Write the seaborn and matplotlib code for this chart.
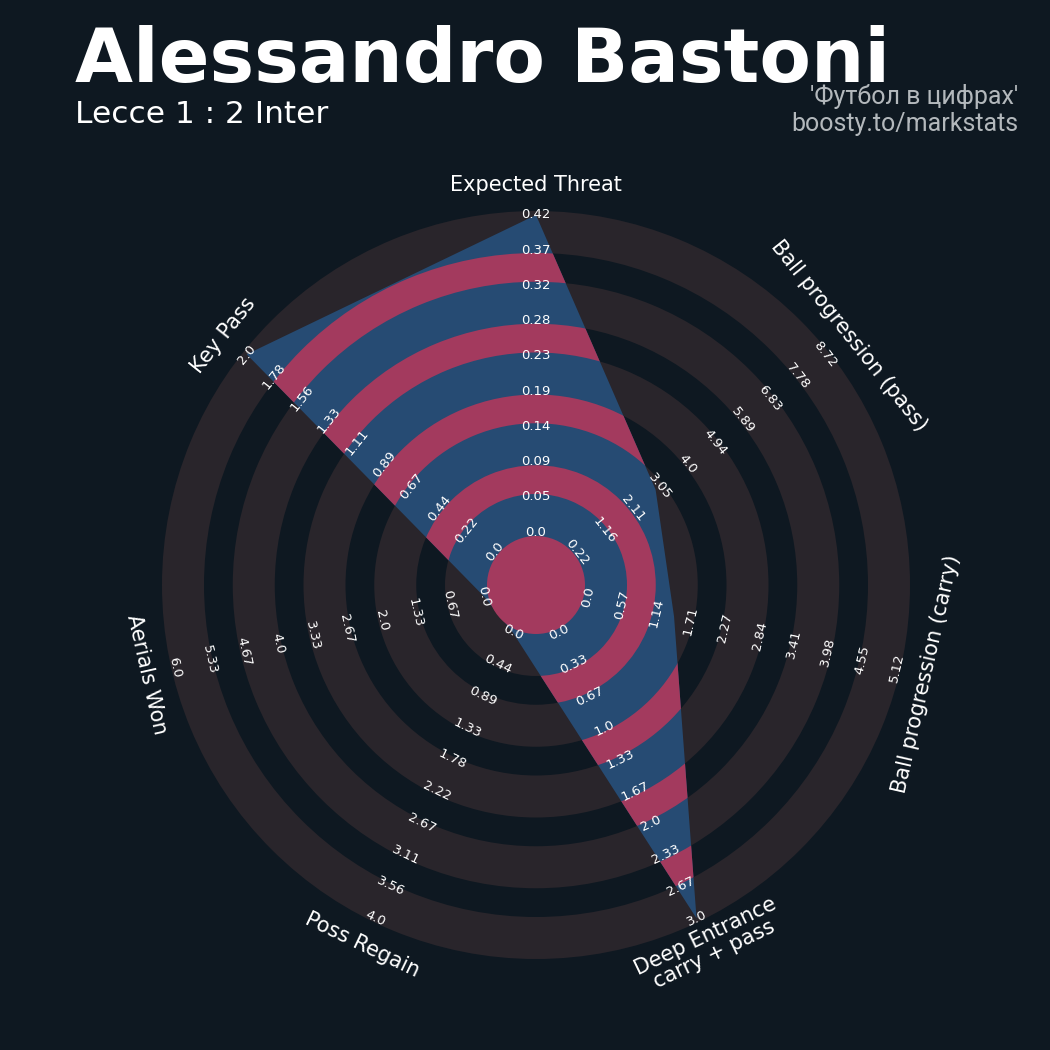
import numpy as np
import seaborn as sns
import matplotlib.pyplot as plt
from matplotlib.patches import Polygon, Wedge, Circle

# radar data
params = ["Expected Threat", "Ball progression (pass)", "Ball progression (carry)",
          "Deep Entrance\ncarry + pass", "Poss Regain", "Aerials Won", "Key Pass"]
low = [0.0, 0.22, 0.0, 0.0, 0.0, 0.0, 0.0]
high = [0.4167, 8.72, 5.117, 3.0, 4.0, 6.0, 2.0]
values = [0.4167, 2.9, 1.43, 3.0, 0.0, 0.0, 2.0]

player = "Alessandro Bastoni"
match = "Lecce 1 : 2 Inter"

BG = "#0e1821"
GREY = "#29252b"
BLUE = "#264b73"
PINK = "#a33a5e"

sns.set_theme(style="dark", rc={"axes.facecolor": BG, "figure.facecolor": BG})
plt.rcParams["font.family"] = ["DejaVu Sans"]

# geometry (pixel-like units around the radar centre)
center_r = 49
ring_w, gap_w = 42, 28.75
r_lo, r_hi = 53, 370
label_r = 400

fig = plt.figure(figsize=(10.5, 10.5), dpi=100)
ax = fig.add_axes([0, 0, 1, 1])
ax.set_xlim(-536, 514)
ax.set_ylim(-465, 585)
ax.set_aspect("equal")
ax.axis("off")

# background rings + list of gaps for the radar stripes
edges = [center_r]
for k in range(5):
    edges.append(edges[-1] + ring_w)
    if k < 4:
        edges.append(edges[-1] + gap_w)
for k in range(5):
    r_in, r_out = edges[2 * k], edges[2 * k + 1]
    ax.add_patch(Wedge((0, 0), r_out, 0, 360, width=r_out - r_in, color=GREY, lw=0, zorder=1))

n = len(params)
theta = np.deg2rad(np.arange(n) * 360 / n)


def scale(v, lo, hi):
    return r_lo + (v - lo) / (hi - lo) * (r_hi - r_lo)


radii = np.array([scale(v, lo, hi) for v, lo, hi in zip(values, low, high)])
verts = np.column_stack([radii * np.sin(theta), radii * np.cos(theta)])
poly = Polygon(verts, closed=True, facecolor=BLUE, edgecolor="none", zorder=2)
ax.add_patch(poly)
for k in range(4):
    r_in, r_out = edges[2 * k + 1], edges[2 * k + 2]
    w = Wedge((0, 0), r_out, 0, 360, width=r_out - r_in, color=PINK, lw=0, zorder=3)
    ax.add_patch(w)
    w.set_clip_path(poly)
ax.add_patch(Circle((0, 0), center_r, color=PINK, lw=0, zorder=3))


def rot(t):
    deg = np.rad2deg(t)
    r = -deg
    if 90 < deg < 270:
        r += 180
    return r


# range labels and parameter names
for i in range(n):
    t = theta[i]
    ticks = np.linspace(low[i], high[i], 10)
    for j, v in enumerate(ticks):
        r = scale(v, low[i], high[i])
        ax.text(r * np.sin(t), r * np.cos(t), str(round(float(v), 2)), color="white",
                fontsize=9.5, ha="center", va="center", rotation=rot(t), zorder=5)
    ax.text(label_r * np.sin(t), label_r * np.cos(t), params[i], color="white",
            fontsize=15, ha="center", va="center", rotation=rot(t),
            multialignment="center", linespacing=1.0, zorder=5)

fig.text(75 / 1050, 1 - 82 / 1050, player, color="white", fontsize=54,
         fontweight="bold", ha="left", va="baseline")
fig.text(75 / 1050, 1 - 123 / 1050, match, color="white", fontsize=22.5,
         ha="left", va="baseline")
fig.text(1018 / 1050, 1 - 104 / 1050, "'Футбол в цифрах'", color="#b3b8bc",
         fontsize=18, family=["Roboto", "DejaVu Sans"], ha="right", va="baseline")
fig.text(1018 / 1050, 1 - 131 / 1050, "boosty.to/markstats", color="#b3b8bc",
         fontsize=18, family=["Roboto", "DejaVu Sans"], ha="right", va="baseline")

fig.savefig("out.png", dpi=100, facecolor=BG)
